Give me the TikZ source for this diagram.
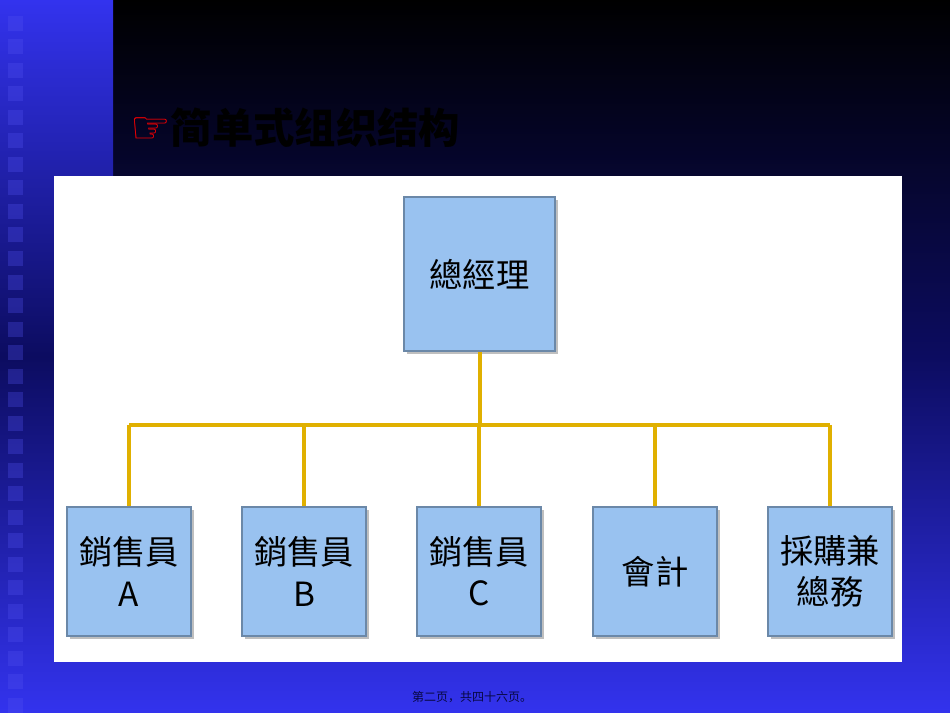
\documentclass[tikz,border=0pt]{standalone}
\usepackage{fontspec}
\usetikzlibrary{shadows}
\newfontfamily\cjk{Noto Sans CJK TC}
\newfontfamily\cjksc{Noto Sans CJK SC}
\newfontfamily\dv{DejaVu Sans}
\definecolor{bluebright}{HTML}{3333EE}
\definecolor{bluedark}{HTML}{0C0C60}
\definecolor{boxblue}{HTML}{99C2F0}
\definecolor{gold}{HTML}{E0B000}
\begin{document}
\begin{tikzpicture}[x=0.75pt,y=-0.75pt,
  box/.style={draw=boxblue!70!black,fill=boxblue,line width=0.8pt,minimum width=124*0.75pt,minimum height=129*0.75pt,inner sep=0pt,font=\cjk\fontsize{25}{31}\selectfont,align=center,drop shadow={shadow xshift=2pt,shadow yshift=-2pt,opacity=0.5}},
  link/.style={draw=gold,line width=3pt}]
\useasboundingbox (0,0) rectangle (950,713);
% backgrounds
\shade[top color=black,bottom color=bluebright,middle color=bluedark] (113,0) rectangle (950,713);
\shade[top color=bluebright,bottom color=bluebright,middle color=bluedark] (0,0) rectangle (113,713);
\foreach \i in {0,...,29}{
  \fill[bluebright!85!white,opacity=0.3] (8,{16+\i*23.5}) rectangle (23,{31+\i*23.5});
}
% title
\node[anchor=west,inner sep=0pt] (title) at (130,128) {{\dv\color{red}\fontsize{34}{36}\selectfont ☞}{\cjksc\bfseries\fontsize{31}{36}\selectfont 简单式组织结构}};
% panel
\fill[white] (54,176) rectangle (902,662);
\node[box,minimum width=151*0.75pt,minimum height=154*0.75pt] (gm) at (479.5,274) {總經理};
\node[box] (a) at (129,571.5) {銷售員\\A};
\node[box] (b) at (304,571.5) {銷售員\\B};
\node[box] (c) at (479,571.5) {銷售員\\C};
\node[box] (d) at (655,571.5) {會計};
\node[box] (e) at (830,571.5) {採購兼\\總務};
\coordinate (hub) at (479.5,425);
\draw[link] (gm.south) -- (hub);
\foreach \n in {a,b,c,d,e}{
  \draw[link] (\n.north) -- (\n.north |- hub);
}
\draw[link] (a.north |- hub) -- (e.north |- hub);
\node[font=\cjksc\fontsize{9}{10}\selectfont,text=bluedark!70!black] (foot) at (472,697) {第二页，共四十六页。};
\end{tikzpicture}
\end{document}
